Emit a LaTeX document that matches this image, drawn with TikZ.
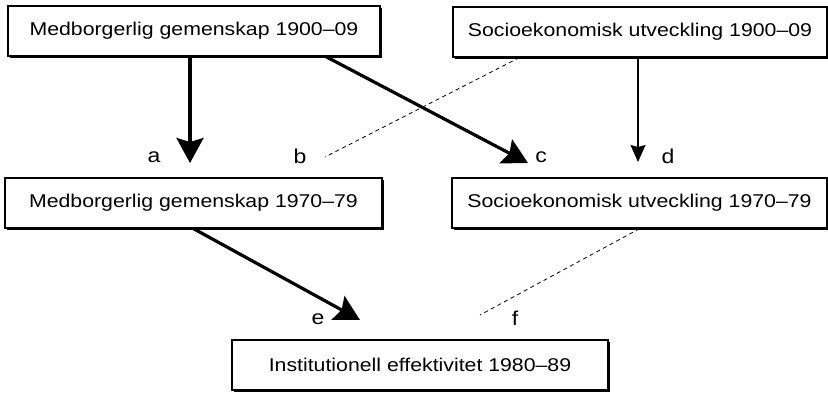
\documentclass[tikz,border=0pt]{standalone}
\usepackage{fontspec}
\setmainfont{Liberation Sans}[FakeStretch=1.15]
\usetikzlibrary{arrows.meta,shadows}

\begin{document}
\begin{tikzpicture}[x=1pt,y=-1pt]
\tikzstyle{block} = [rectangle, draw=black, line width=1.3pt, fill=white,
minimum height=50pt, inner sep=0pt, font=\fontsize{18.5}{20}\selectfont,
drop shadow={shadow xshift=2.2pt, shadow yshift=-2.2pt, fill=black, opacity=1}]
\tikzstyle{lbl} = [font=\fontsize{20}{22}\selectfont, inner sep=0pt]
\tikzstyle{strong} = [draw, line width=3.2pt, -{Stealth[length=25pt,width=27pt,inset=4pt]}]
\tikzstyle{weak} = [draw, line width=1.5pt, -{Stealth[length=17pt,width=15pt,inset=2pt]}]
\tikzstyle{spurious} = [draw, line width=0.8pt, dash pattern=on 4pt off 3.5pt]
\useasboundingbox (0,0) rectangle (828,394);

% row 1
\node [block, minimum width=372pt] (med0) at (194,31) {Medborgerlig gemenskap 1900--09};
\node [block, minimum width=374pt] (soc0) at (640,32) {Socioekonomisk utveckling 1900--09};
% row 2
\node [block, minimum width=377pt] (med1) at (193.5,203) {Medborgerlig gemenskap 1970--79};
\node [block, minimum width=375pt] (soc1) at (639.5,203) {Socioekonomisk utveckling 1970--79};
% row 3
\node [block, minimum width=376pt] (inst) at (420,365) {Institutionell effektivitet 1980--89};

% arrow ends
\coordinate (atip) at (190,163);
\coordinate (bend) at (325,157);
\coordinate (ctip) at (528,163);
\coordinate (dtip) at (638,162);
\coordinate (etip) at (360,320);
\coordinate (fend) at (480,315);

\path [strong] (med0.south -| atip) -- (atip);
\path [spurious] (soc0.-168) -- (bend);
\path [strong] (med0.-11) -- (ctip);
\path [weak] (soc0.south -| dtip) -- (dtip);
\path [strong] (med1.south) -- (etip);
\path [spurious] (soc1.south) -- (fend);

\node [lbl] (la) at (154,157) {a};
\node [lbl] (lb) at (300,156) {b};
\node [lbl] (lc) at (541,157) {c};
\node [lbl] (ld) at (668,156) {d};
\node [lbl] (le) at (318,319) {e};
\node [lbl] (lf) at (515,318) {f};
\end{tikzpicture}
\end{document}
